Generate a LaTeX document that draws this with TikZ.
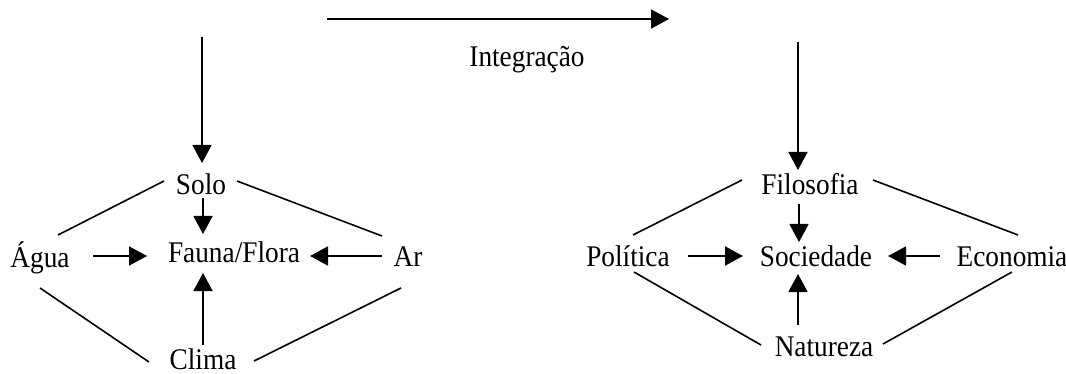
\documentclass[tikz,border=0pt]{standalone}
\usepackage{fontspec}
\setmainfont{Liberation Serif}
\usetikzlibrary{arrows.meta}
\newcommand{\lbl}[1]{\scalebox{0.91}[1]{#1}}
\begin{document}
\begin{tikzpicture}[x=1pt,y=-1pt,
  txt/.style={anchor=base,inner sep=0pt,font=\fontsize{30}{36}\selectfont},
  arr/.style={line width=1.8pt,-{Triangle[length=18pt,width=19pt]}},
  ln/.style={line width=1.6pt}]
\useasboundingbox (0,0) rectangle (1066,374);
% left group
\node[txt] (solo) at (201,195) {\lbl{Solo}};
\node[txt] (agua) at (40,268) {\lbl{Água}};
\node[txt] (fauna) at (234,262) {\lbl{Fauna/Flora}};
\node[txt] (ar) at (408,267) {\lbl{Ar}};
\node[txt,text depth=0pt] (clima) at (203,369) {\lbl{Clima}};
% right group
\node[txt] (filo) at (810,195) {\lbl{Filosofia}};
\node[txt] (poli) at (628,267) {\lbl{Política}};
\node[txt] (soc) at (816,267) {\lbl{Sociedade}};
\node[txt] (eco) at (1012,267) {\lbl{Economia}};
\node[txt] (nat) at (824,356) {\lbl{Natureza}};
\node[txt] (integ) at (527,67) {\lbl{Integração}};
% free arrow ends
\coordinate (topA) at (327,19);
\coordinate (topB) at (669,19);
\coordinate (leftIn) at (202,37);
\coordinate (soloN) at (202,163);
\coordinate (rightIn) at (798,42);
\coordinate (filoN) at (798,170);
% connector ends near nodes
\coordinate (soloS) at (203,198);
\coordinate (faunaN) at (203,234);
\coordinate (aguaE) at (93,256);
\coordinate (faunaW) at (147,256);
\coordinate (arW) at (382,256);
\coordinate (faunaE) at (310,256);
\coordinate (climaN) at (203,345);
\coordinate (faunaS) at (203,273);
\coordinate (filoS) at (799,204);
\coordinate (socN) at (799,242);
\coordinate (poliE) at (688,256);
\coordinate (socW) at (743,256);
\coordinate (ecoW) at (940,256);
\coordinate (socE) at (888,256);
\coordinate (natN) at (798,325);
\coordinate (socS) at (798,274);
% arrows
\draw[arr] (topA) -- (topB);
\draw[arr] (leftIn) -- (soloN);
\draw[arr] (rightIn) -- (filoN);
\draw[arr] (soloS) -- (faunaN);
\draw[arr] (aguaE) -- (faunaW);
\draw[arr] (arW) -- (faunaE);
\draw[arr] (climaN) -- (faunaS);
\draw[arr] (filoS) -- (socN);
\draw[arr] (poliE) -- (socW);
\draw[arr] (ecoW) -- (socE);
\draw[arr] (natN) -- (socS);
% plain lines
\draw[ln] ([shift={(-37,-14)}]solo.base) -- ([shift={(18,-33)}]agua.base);
\draw[ln] ([shift={(36,-14)}]solo.base) -- ([shift={(-26,-31)}]ar.base);
\draw[ln] ([shift={(0,20)}]agua.base) -- ([shift={(-54,-7)}]clima.base);
\draw[ln] ([shift={(-7,21)}]ar.base) -- ([shift={(51,-8)}]clima.base);
\draw[ln] ([shift={(-68,-15)}]filo.base) -- ([shift={(5,-32)}]poli.base);
\draw[ln] ([shift={(63,-15)}]filo.base) -- ([shift={(6,-32)}]eco.base);
\draw[ln] ([shift={(6,5)}]poli.base) -- ([shift={(-63,-11)}]nat.base);
\draw[ln] ([shift={(0,5)}]eco.base) -- ([shift={(59,-12)}]nat.base);
\end{tikzpicture}
\end{document}
